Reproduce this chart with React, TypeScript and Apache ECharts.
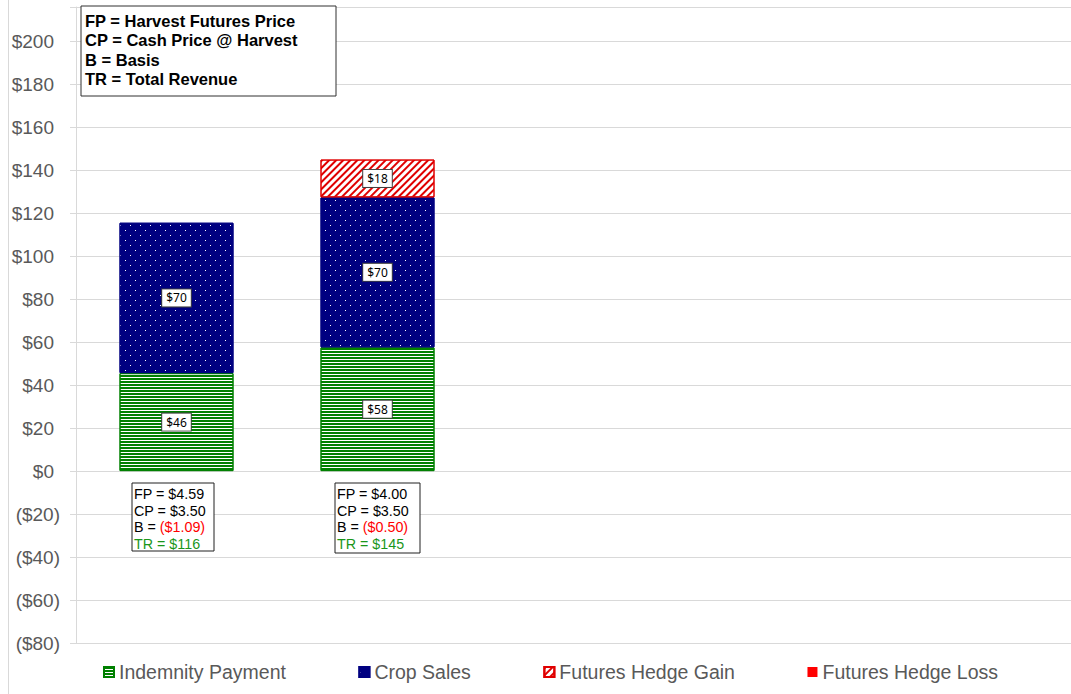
import React, { useEffect, useRef } from "react";
import * as echarts from "echarts";

const categories = ["S1", "S2", "S3", "S4", "S5"];
const indemnityPayment = [45.6, 57.6, null, null, null];
const cropSales = [70, 69.8, null, null, null];
const hedgeGain = [null, 17.6, null, null, null];
const hedgeLoss = [null, null, null, null, null];
const seriesNames = ["Indemnity Payment", "Crop Sales", "Futures Hedge Gain", "Futures Hedge Loss"];
const keyLines = ["FP = Harvest Futures Price", "CP = Cash Price @ Harvest", "B = Basis", "TR = Total Revenue"];
const scenarioFP = ["$4.59", "$4.00"];
const scenarioCP = ["$3.50", "$3.50"];
const scenarioB = ["($1.09)", "($0.50)"];
const scenarioTR = ["$116", "$145"];

const FONT = "'Liberation Sans', Arial, sans-serif";

const barLabel = {
  show: true,
  position: "inside",
  formatter: (p: any) => "$" + Math.round(p.value),
  backgroundColor: "#ffffff",
  borderColor: "#404040",
  borderWidth: 1,
  padding: [3, 4, 2, 4],
  color: "#000000",
  fontSize: 12,
  fontFamily: "'Noto Sans', sans-serif",
};

function infoBox(i: number, x: number, y: number, w: number, h: number) {
  return {
    type: "group",
    z: 100,
    children: [
      {
        type: "rect",
        z: 100,
        shape: { x, y, width: w, height: h },
        style: { fill: "#ffffff", stroke: "#202020", lineWidth: 1 },
      },
      {
        type: "text",
        z: 101,
        x: x + 2,
        y: y + 3,
        style: {
          text: `{k|FP = ${scenarioFP[i]}}\n{k|CP = ${scenarioCP[i]}}\n{k|B = }{r|${scenarioB[i]}}\n{g|TR = ${scenarioTR[i]}}`,
          fontFamily: FONT,
          fontSize: 14.3,
          lineHeight: 16.5,
          rich: {
            k: { fill: "#000000", fontSize: 14.3, fontFamily: FONT, lineHeight: 16.5 },
            r: { fill: "#ff0000", fontSize: 14.3, fontFamily: FONT, lineHeight: 16.5 },
            g: { fill: "#1a961a", fontSize: 14.3, fontFamily: FONT, lineHeight: 16.5 },
          },
        },
      },
    ],
  };
}

export default function App() {
  const ref = useRef<HTMLDivElement>(null);
  useEffect(() => {
    const chart = echarts.init(ref.current!, null, { renderer: "svg" });
    const option: any = {
      animation: false,
      backgroundColor: "#ffffff",
      grid: { left: 76, top: 7, width: 1005, height: 636, containLabel: false },
      xAxis: {
        type: "category",
        data: categories,
        axisLine: { show: false },
        axisTick: { show: false },
        axisLabel: { show: false },
        splitLine: { show: false },
      },
      yAxis: {
        type: "value",
        min: -80,
        max: 216,
        interval: 20,
        axisLine: { show: true, lineStyle: { color: "#d9d9d9", width: 1 } },
        axisTick: { show: true, length: 6, lineStyle: { color: "#d9d9d9" } },
        splitLine: { show: true, lineStyle: { color: "#d9d9d9", width: 1 } },
        axisLabel: {
          margin: 16,
          color: "#595959",
          fontSize: 19,
          fontFamily: FONT,
          formatter: (v: number) => {
            if (Math.abs(v % 20) > 0.001) return "";
            if (v >= 0) return `{p|$${v}}`;
            return `($${-v})`;
          },
          rich: {
            p: { padding: [0, 6, 0, 0], color: "#595959", fontSize: 19, fontFamily: FONT },
          },
        },
      },
      legend: {
        data: seriesNames,
        icon: "rect",
        left: 98,
        top: 657,
        itemGap: 72.5,
        itemWidth: 10,
        itemHeight: 10,
        textStyle: { color: "#595959", fontSize: 19.5, fontFamily: FONT },
        selectedMode: false,
      },
      series: [
        {
          name: seriesNames[0],
          type: "bar",
          stack: "total",
          barWidth: 114,
          data: indemnityPayment,
          itemStyle: {
            color: "#ffffff",
            borderColor: "#008000",
            borderWidth: 1,
            decal: {
              symbol: "rect",
              symbolSize: 1,
              color: "#008000",
              dashArrayX: [1, 0],
              dashArrayY: [2, 1],
              rotation: 0,
            },
          },
          label: barLabel,
        },
        {
          name: seriesNames[1],
          type: "bar",
          stack: "total",
          barWidth: 114,
          data: cropSales,
          itemStyle: {
            color: "#000080",
            borderColor: "#000080",
            borderWidth: 1,
            decal: {
              symbol: "rect",
              symbolSize: 1,
              color: "#ffffff",
              dashArrayX: [[1, 9], [0, 5, 1, 4]],
              dashArrayY: [1, 4],
              rotation: 0,
            },
          },
          label: barLabel,
        },
        {
          name: seriesNames[2],
          type: "bar",
          stack: "total",
          barWidth: 114,
          data: hedgeGain,
          itemStyle: {
            color: "#ffffff",
            borderColor: "#e00000",
            borderWidth: 1,
            decal: {
              symbol: "rect",
              symbolSize: 1,
              color: "#e00000",
              dashArrayX: [1, 0],
              dashArrayY: [2, 2.5],
              rotation: -Math.PI / 4,
            },
          },
          label: barLabel,
        },
        {
          name: seriesNames[3],
          type: "bar",
          stack: "total",
          barWidth: 114,
          data: hedgeLoss,
          itemStyle: { color: "#ff0000" },
          label: barLabel,
        },
      ],
      graphic: [
        {
          type: "line",
          z: 100,
          shape: { x1: 8.5, y1: 0, x2: 8.5, y2: 694 },
          style: { stroke: "#d9d9d9", lineWidth: 1 },
        },
        {
          type: "group",
          z: 100,
          children: [
            {
              type: "rect",
              z: 100,
              shape: { x: 81, y: 6, width: 255, height: 90 },
              style: { fill: "#ffffff", stroke: "#303030", lineWidth: 1 },
            },
            {
              type: "text",
              z: 101,
              x: 85,
              y: 11,
              style: {
                text: keyLines.join("\n"),
                fontFamily: FONT,
                fontWeight: "bold",
                fontSize: 16.5,
                lineHeight: 19.5,
                fill: "#000000",
              },
            },
          ],
        },
        infoBox(0, 132, 483, 82, 68),
        infoBox(1, 335, 483, 85, 70),
      ],
    };
    chart.setOption(option);
    return () => chart.dispose();
  }, []);
  return (
    <div style={{ position: "absolute", left: 0, top: 0, width: 1071, height: 694, overflow: "hidden" }}>
      <div ref={ref} style={{ position: "absolute", left: 0, top: 0, width: 1081, height: 694 }} />
    </div>
  );
}
